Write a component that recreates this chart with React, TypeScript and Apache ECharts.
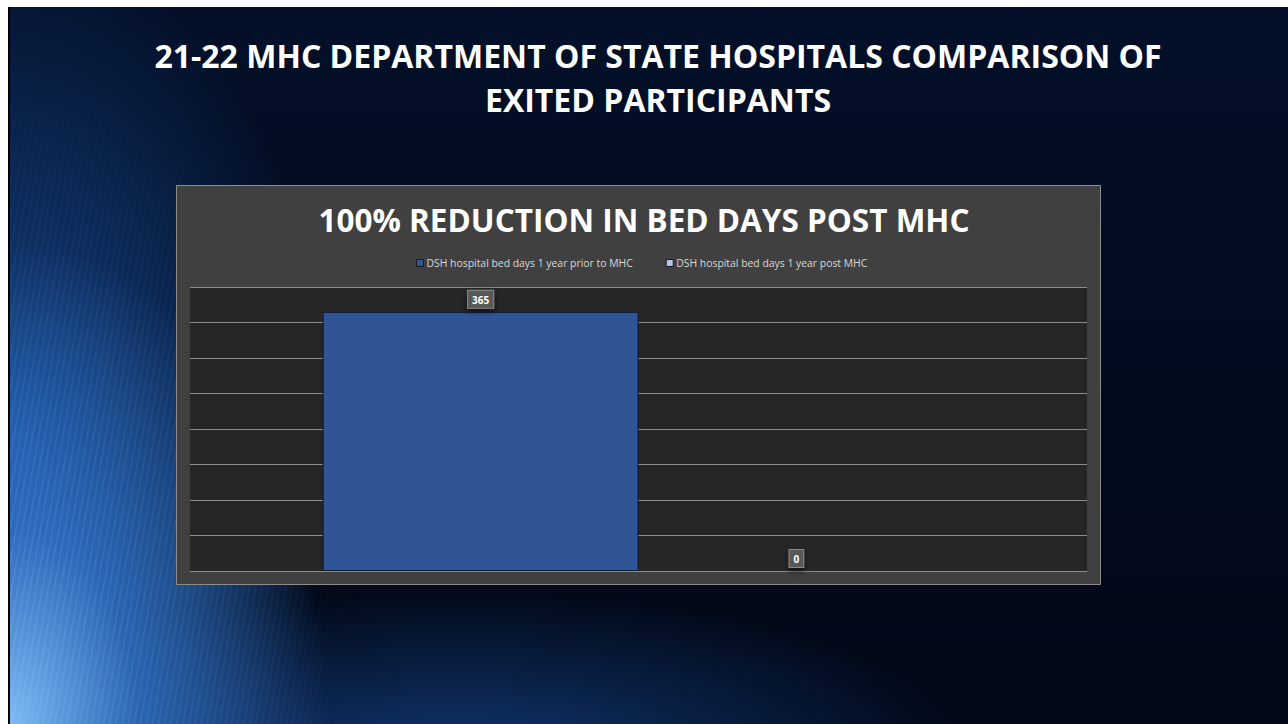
import React, { useEffect, useRef } from "react";
import * as echarts from "echarts";

const slideTitle = "21-22 MHC DEPARTMENT OF STATE HOSPITALS COMPARISON OF\nEXITED PARTICIPANTS";
const chartTitle = "100% REDUCTION IN BED DAYS POST MHC";
const categories = [""];
const seriesNames = [
  "DSH hospital bed days 1 year prior to MHC",
  "DSH hospital bed days 1 year post MHC",
];
const priorValues = [365];
const postValues = [0];
const yMax = 400;
const yInterval = 50;

const FONT = "'Open Sans', 'Noto Sans', sans-serif";

export default function App() {
  const ref = useRef<HTMLDivElement>(null);

  useEffect(() => {
    document.body.style.margin = "0";
    document.body.style.overflow = "hidden";
    if (!ref.current) return;
    const chart = echarts.init(ref.current, undefined, { renderer: "svg" });

    const labelStyle = {
      show: true,
      position: "top",
      distance: 4,
      formatter: "{c}",
      color: "#ffffff",
      fontSize: 10,
      fontWeight: "bold",
      fontFamily: FONT,
      backgroundColor: "#595959",
      borderColor: "#8a8a8a",
      borderWidth: 1,
      padding: [4, 4, 3, 4],
      shadowColor: "rgba(0,0,0,0.6)",
      shadowBlur: 6,
      shadowOffsetY: 3,
    };

    chart.setOption({
      animation: false,
      backgroundColor: "transparent",
      title: [
        {
          text: slideTitle,
          left: 653,
          top: 28,
          textAlign: "center",
          textStyle: {
            color: "#ffffff",
            fontFamily: FONT,
            fontWeight: "bold",
            fontSize: 32,
            lineHeight: 44,
          },
        },
        {
          text: chartTitle,
          left: 639,
          top: 198,
          textAlign: "center",
          textStyle: {
            color: "#ffffff",
            fontFamily: FONT,
            fontWeight: "bold",
            fontSize: 31.5,
          },
        },
      ],
      graphic: [
        {
          type: "rect",
          z: -10,
          shape: { x: 176.5, y: 185.5, width: 924, height: 399 },
          style: { fill: "#404040", stroke: "#8c8c8c", lineWidth: 1 },
        },
      ],
      legend: {
        data: seriesNames,
        top: 253,
        left: 411,
        itemWidth: 7,
        itemHeight: 7,
        itemGap: 33,
        icon: "rect",
        itemStyle: { borderColor: "#1a1a1a", borderWidth: 1 },
        textStyle: { color: "#d9d9d9", fontSize: 10.4, fontFamily: FONT, padding: [0, 0, 0, -2] },
      },
      grid: {
        left: 190,
        top: 287,
        width: 897,
        height: 284,
        show: true,
        backgroundColor: "#262626",
        borderWidth: 0,
      },
      xAxis: {
        type: "category",
        data: categories,
        axisLine: { show: true, lineStyle: { color: "#8c8c8c", width: 1 } },
        axisTick: { show: false },
        axisLabel: { show: false },
      },
      yAxis: {
        type: "value",
        min: 0,
        max: yMax,
        interval: yInterval,
        axisLabel: { show: false },
        axisLine: { show: false },
        axisTick: { show: false },
        splitLine: { lineStyle: { color: "#8c8c8c", width: 1 } },
      },
      series: [
        {
          name: seriesNames[0],
          type: "bar",
          data: priorValues,
          barGap: "0%",
          barCategoryGap: "29.6%",
          itemStyle: { color: "#2f5597", borderColor: "#0e1a30", borderWidth: 1 },
          label: labelStyle,
        },
        {
          name: seriesNames[1],
          type: "bar",
          data: postValues,
          barGap: "0%",
          barCategoryGap: "29.6%",
          itemStyle: { color: "#b4c7e7", borderWidth: 0 },
          label: labelStyle,
        },
      ],
    });

    return () => chart.dispose();
  }, []);

  return (
    <div style={{ position: "relative", width: 1288, height: 724, background: "#ffffff", overflow: "hidden" }}>
      <div
        style={{
          position: "absolute",
          left: 8,
          top: 7,
          right: 0,
          bottom: 0,
          borderLeft: "2px solid #000",
          background: [
            "radial-gradient(ellipse 320px 480px at 0% 100%, rgba(130,195,255,0.95), rgba(60,135,230,0.65) 40%, rgba(5,20,50,0) 100%)",
            "radial-gradient(ellipse 750px 240px at 35% 105%, rgba(30,95,190,0.55), rgba(0,0,0,0) 70%)",
            "radial-gradient(ellipse 460px 700px at 0% 60%, rgba(30,100,195,0.65), rgba(0,0,0,0) 70%)",
            "linear-gradient(180deg, #041029 0%, #020b1e 55%, #010817 100%)",
          ].join(","),
        }}
      />
      <div
        style={{
          position: "absolute",
          left: 10,
          top: 7,
          right: 0,
          bottom: 0,
          background:
            "repeating-linear-gradient(100deg, rgba(160,210,255,0.16) 0px, rgba(160,210,255,0.16) 1px, rgba(0,0,0,0) 2px, rgba(0,0,0,0) 6px)",
          WebkitMaskImage: "radial-gradient(ellipse 360px 600px at 0% 90%, #000 0%, rgba(0,0,0,0.4) 60%, transparent 100%)",
          maskImage: "radial-gradient(ellipse 360px 600px at 0% 90%, #000 0%, rgba(0,0,0,0.4) 60%, transparent 100%)",
        }}
      />
      <div ref={ref} style={{ position: "absolute", left: 0, top: 0, width: 1288, height: 724 }} />
    </div>
  );
}
